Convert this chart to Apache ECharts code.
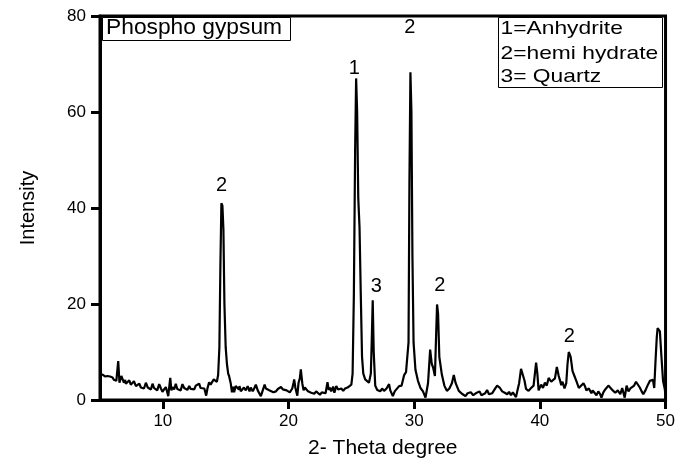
<!DOCTYPE html>
<html>
<head>
<meta charset="utf-8">
<script src="https://cdn.jsdelivr.net/npm/echarts@6/dist/echarts.min.js"></script>
<style>
html,body{margin:0;padding:0;background:#fff;}
#chart{width:678px;height:464px;}
</style>
</head>
<body>
<div id="chart"></div>
<script>
// 2-theta positions (degrees)
const xs = [
5.0,5.1,5.2,5.3,5.4,5.5,5.6,5.7,5.8,5.9,6.0,6.1,6.2,6.3,6.45,6.55,6.62,6.7,6.8,6.9,
7.0,7.06,7.2,7.33,7.45,7.6,7.7,7.86,8.0,8.13,8.25,8.39,8.5,8.65,8.8,8.92,9.05,9.18,9.3,9.44,
9.55,9.71,9.85,9.97,10.1,10.24,10.35,10.43,10.59,10.68,10.77,10.9,11.03,11.15,11.3,11.42,11.56,11.7,11.83,11.95,
12.1,12.22,12.36,12.5,12.62,12.75,12.89,13.0,13.15,13.3,13.45,13.55,13.68,13.8,13.94,14.05,14.2,14.3,14.4,14.5,
14.58,14.66,14.74,14.82,14.9,15.0,15.1,15.2,15.27,15.4,15.5,15.6,15.67,15.8,15.93,16.05,16.1,16.2,16.35,16.45,
16.6,16.75,16.9,17.0,17.15,17.25,17.4,17.55,17.65,17.8,17.95,18.1,18.2,18.35,18.5,18.65,18.8,19.0,19.15,19.25,
19.4,19.55,19.7,19.85,20.0,20.1,20.2,20.3,20.4,20.45,20.55,20.7,20.8,20.9,20.98,21.1,21.2,21.3,21.4,21.55,
21.65,21.8,21.95,22.05,22.2,22.35,22.5,22.65,22.8,22.95,23.1,23.2,23.3,23.4,23.55,23.65,23.8,23.95,24.1,24.2,
24.35,24.5,24.6,24.7,24.8,25.0,25.1,25.2,25.3,25.38,25.46,25.55,25.65,25.75,25.85,25.95,26.1,26.25,26.4,26.55,
26.62,26.7,26.78,26.9,27.06,27.2,27.3,27.45,27.6,27.8,28.0,28.1,28.3,28.45,28.6,28.8,29.0,29.2,29.35,29.45,
29.55,29.62,29.7,29.78,29.86,29.95,30.1,30.3,30.5,30.7,30.9,31.1,31.27,31.4,31.5,31.65,31.75,31.82,31.9,32.0,
32.2,32.4,32.6,32.8,33.0,33.15,33.3,33.55,33.8,34.08,34.25,34.4,34.5,34.7,34.9,35.05,35.2,35.35,35.5,35.65,
35.8,35.95,36.2,36.4,36.6,36.8,37.0,37.2,37.4,37.55,37.7,37.85,38.0,38.1,38.2,38.35,38.5,38.65,38.78,38.9,
39.1,39.3,39.5,39.7,39.8,39.9,40.0,40.1,40.25,40.4,40.55,40.7,40.8,40.9,41.0,41.2,41.35,41.5,41.6,41.7,
41.8,41.96,42.1,42.2,42.3,42.45,42.6,42.75,42.9,43.1,43.25,43.47,43.6,43.7,43.9,44.1,44.2,44.35,44.5,44.65,
44.8,44.9,45.05,45.2,45.45,45.6,45.8,46.0,46.2,46.4,46.55,46.64,46.75,46.9,47.05,47.2,47.35,47.5,47.65,47.8,
47.95,48.1,48.23,48.4,48.6,48.76,48.9,49.0,49.1,49.2,49.3,49.37,49.55,49.65,49.8,49.93,50.0
];
// intensity values
const ys = [
5.3,5.0,5.3,5.1,4.9,5.2,5.0,4.6,4.9,4.5,4.7,4.2,4.5,4.0,8.1,3.6,3.4,5.0,4.8,3.6,
4.2,3.4,3.8,4.1,3.2,3.4,3.9,2.9,3.3,3.4,2.6,2.9,2.4,3.6,2.6,2.8,2.2,3.4,2.5,2.7,
2.0,3.3,2.4,1.7,2.2,2.7,1.6,0.8,4.6,2.0,2.7,2.2,3.4,2.3,2.7,2.0,3.3,2.5,2.7,2.1,
2.9,2.3,2.7,2.2,3.0,2.6,3.4,2.5,2.9,2.4,0.9,2.4,3.7,3.2,3.3,4.3,4.1,3.8,5.2,11,
28,41,40.5,35.5,20,11,7.5,5.5,5.0,3.5,1.6,2.8,1.6,2.9,3.2,2.2,2.9,1.8,1.5,2.6,
2.0,2.9,1.8,2.6,1.8,2.3,3.2,2.0,2.4,0.8,2.0,3.2,2.4,2.6,2.0,2.4,1.6,1.8,2.3,1.9,
2.7,2.2,1.8,2.0,1.7,1.6,2.0,2.4,3.6,4.3,2.5,0.9,3.6,4.5,6.4,3.4,2.0,2.6,2.4,1.8,
2.2,1.5,1.9,1.3,1.8,1.4,1.1,1.6,2.0,1.4,3.7,2.1,2.6,1.8,2.8,1.5,2.9,2.2,1.8,2.4,
1.9,2.4,2.0,2.6,3.0,3.2,5.5,22,52,67,60,42,36,22,9,5.5,4.3,4.6,3.6,5.5,
12,20.8,10,3.0,2.1,2.5,1.8,2.4,1.9,2.4,3.3,2.0,0.8,1.8,2.2,2.9,3.0,5.2,5.8,6.2,
12,45,68.3,60,30,12,6.3,4.0,2.5,1.8,0.5,3.5,10.5,7.5,6.8,5.0,14,19.9,18,9,
5.3,3.0,1.9,2.4,3.5,5.2,3.5,1.9,1.3,0.8,1.4,1.2,1.6,1.0,1.4,1.2,1.8,1.0,1.3,1.4,
2.1,1.2,1.4,2.2,3.0,2.6,1.8,1.5,1.2,1.7,1.0,1.6,1.2,0.6,1.8,3.5,6.5,6.3,4.0,2.3,
1.9,2.5,3.0,7.8,5.5,2.0,2.1,3.2,2.5,3.6,3.0,4.6,5.0,3.8,4.2,4.5,6.9,5.0,4.1,3.1,
3.8,2.4,3.5,7.5,10.0,9.0,6.0,5.0,4.0,2.5,2.8,3.5,2.8,2.0,2.4,1.4,2.0,1.8,1.0,1.8,
1.2,0.5,1.6,2.2,3.0,2.6,2.0,1.5,2.0,1.2,2.5,2.6,0.5,3.0,1.8,2.4,2.0,3.0,3.8,3.4,
2.6,1.8,1.2,2.0,3.2,4.0,4.3,4.2,2.5,8,13,15.0,14.3,10,4.0,2.4,1.0
];
// peak annotations (phase numbers)
const peakX = [14.67, 25.23, 29.66, 26.98, 32.03, 42.35];
const peakY = [44.7, 69.1, 77.6, 23.6, 23.9, 13.3];
const peakText = ['2', '1', '2', '3', '2', '2'];
// axis ticks
const xTicks = [10, 20, 30, 40, 50];
const legendLines = ['1=Anhydrite', '2=hemi hydrate', '3= Quartz'];
const titleText = 'Phospho gypsum';

const FONT = 'Liberation Sans, Arial, Helvetica, sans-serif';
const lineData = xs.map((x, i) => [x, ys[i]]);
const peakData = peakX.map((x, i) => ({ value: [x, peakY[i]], label: { formatter: peakText[i] } }));

const chart = echarts.init(document.getElementById('chart'), null, { renderer: 'canvas' });
chart.setOption({
  animation: false,
  backgroundColor: '#fff',
  textStyle: { fontFamily: FONT },
  grid: { left: 100, right: 11, top: 16, bottom: 62, show: true, borderColor: '#000', borderWidth: 3, backgroundColor: 'transparent' },
  xAxis: {
    type: 'value', min: 5, max: 50,
    name: '2- Theta degree', nameLocation: 'middle', nameGap: 38,
    nameTextStyle: { fontSize: 21, color: '#000', fontFamily: FONT },
    axisLine: { show: true, onZero: false, lineStyle: { color: '#000', width: 3 } },
    axisTick: { show: true, customValues: xTicks, length: 9, lineStyle: { color: '#000', width: 3 } },
    axisLabel: { customValues: xTicks, fontSize: 17, color: '#000', margin: 13, fontFamily: FONT },
    splitLine: { show: false }
  },
  yAxis: {
    type: 'value', min: 0, max: 80, interval: 20,
    name: 'Intensity', nameLocation: 'middle', nameGap: 62,
    nameTextStyle: { fontSize: 20, color: '#000', fontFamily: FONT },
    axisLine: { show: true, lineStyle: { color: '#000', width: 3 } },
    axisTick: { show: true, length: 9, lineStyle: { color: '#000', width: 3 } },
    axisLabel: { fontSize: 17, color: '#000', margin: 14, fontFamily: FONT },
    splitLine: { show: false }
  },
  series: [
    {
      type: 'line', data: lineData, showSymbol: false, symbol: 'none',
      lineStyle: { color: '#000', width: 2.2 }, clip: true, z: 3
    },
    {
      type: 'scatter', data: peakData, symbolSize: 1,
      itemStyle: { color: 'rgba(0,0,0,0)' },
      label: { show: true, position: 'inside', color: '#000', fontSize: 20, fontFamily: FONT, textBorderWidth: 0, opacity: 1 },
      z: 4
    }
  ],
  graphic: [
    { type: 'rect', shape: { x: 102.5, y: 17.5, width: 188, height: 23 }, style: { fill: '#fff', stroke: '#000', lineWidth: 1 }, z: 10 },
    { type: 'text', x: 106, y: 28.5, scaleX: 1.06, style: { text: titleText, fontSize: 21.5, fontFamily: FONT, fill: '#000', textAlign: 'left', textVerticalAlign: 'middle' }, z: 11 },
    { type: 'rect', shape: { x: 498.5, y: 17.5, width: 164, height: 70 }, style: { fill: '#fff', stroke: '#000', lineWidth: 1 }, z: 10 },
    { type: 'text', x: 500.5, y: 28.5, scaleX: 1.2, style: { text: legendLines[0], fontSize: 19, fontFamily: FONT, fill: '#000', textAlign: 'left', textVerticalAlign: 'middle' }, z: 11 },
    { type: 'text', x: 500.5, y: 53.3, scaleX: 1.2, style: { text: legendLines[1], fontSize: 19, fontFamily: FONT, fill: '#000', textAlign: 'left', textVerticalAlign: 'middle' }, z: 11 },
    { type: 'text', x: 500.5, y: 76.7, scaleX: 1.2, style: { text: legendLines[2], fontSize: 19, fontFamily: FONT, fill: '#000', textAlign: 'left', textVerticalAlign: 'middle' }, z: 11 }
  ]
});
</script>
</body>
</html>
